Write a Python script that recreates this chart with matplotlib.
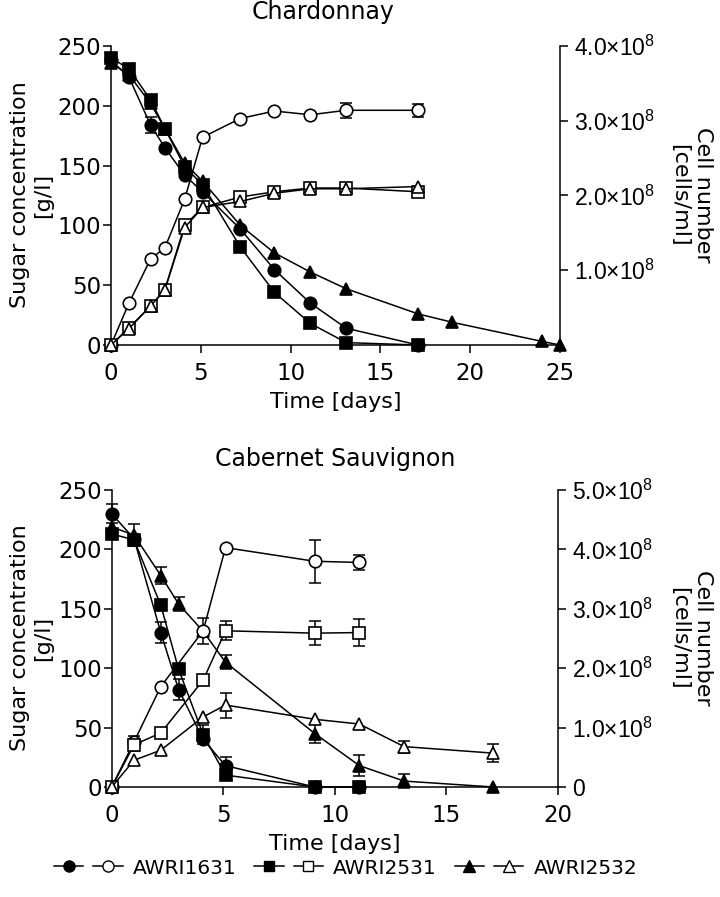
import numpy as np
import matplotlib
matplotlib.use("Agg")
import matplotlib.pyplot as plt
from matplotlib.lines import Line2D
from matplotlib.legend_handler import HandlerTuple

plt.rcParams["font.family"] = "DejaVu Sans"
plt.rcParams["mathtext.default"] = "regular"

# Chardonnay data
ch_days = [0, 1, 2.2, 3, 4.1, 5.1, 7.2, 9.1, 11.1, 13.1, 17.1]
ch_days_2532 = ch_days + [19, 24, 25]
ch_sugar_1631 = [238, 224, 184, 165, 142, 128, 97, 63, 35, 14, 0]
ch_sugar_2531 = [240, 231, 205, 181, 149, 134, 82, 44, 18, 2, 0]
ch_sugar_2532 = [236, 226, 202, 181, 152, 137, 100, 77, 61, 47, 26, 19, 3, 0]
ch_sugar_err_1631 = [0, 0, 7, 0, 0, 0, 0, 0, 0, 0, 0]
ch_cells_1631 = [0, 0.56, 1.15, 1.30, 1.95, 2.78, 3.03, 3.13, 3.08, 3.14, 3.14]
ch_cells_2531 = [0, 0.23, 0.52, 0.74, 1.60, 1.84, 1.98, 2.05, 2.10, 2.10, 2.05]
ch_cells_2532 = [0, 0.22, 0.52, 0.74, 1.57, 1.84, 1.92, 2.03, 2.09, 2.09, 2.12]
ch_cells_err_1631 = [0, 0, 0, 0, 0, 0, 0, 0, 0, 0.1, 0.09]

# Cabernet Sauvignon data
cs_days = [0, 1, 2.2, 3, 4.1, 5.1, 9.1, 11.1]
cs_days_2532 = cs_days + [13.1, 17.1]
cs_sugar_1631 = [230, 209, 130, 82, 40, 18, 0, 0]
cs_sugar_2531 = [213, 208, 153, 99, 44, 10, 0, 0]
cs_sugar_2532 = [219, 212, 178, 154, 131, 105, 45, 18, 5, 0]
cs_sugar_err_1631 = [8, 0, 9, 9, 0, 7, 0, 0]
cs_sugar_err_2531 = [0, 0, 0, 0, 8, 0, 0, 0]
cs_sugar_err_2532 = [0, 9, 7, 6, 0, 6, 8, 9, 6, 0]
cs_cell_days = [0, 1, 2.2, 4.1, 5.1, 9.1, 11.1]
cs_cell_days_2532 = cs_cell_days + [13.1, 17.1]
cs_cells_1631 = [0, 0.76, 1.69, 2.63, 4.03, 3.80, 3.78]
cs_cells_2531 = [0, 0.71, 0.91, 1.80, 2.63, 2.59, 2.60]
cs_cells_2532 = [0, 0.45, 0.62, 1.18, 1.38, 1.14, 1.06, 0.68, 0.57]
cs_cells_err_1631 = [0, 0.1, 0, 0.22, 0, 0.36, 0.12]
cs_cells_err_2531 = [0, 0.1, 0, 0, 0.16, 0.2, 0.22]
cs_cells_err_2532 = [0, 0, 0, 0, 0.21, 0, 0, 0.1, 0.15]

strains = ["AWRI1631", "AWRI2531", "AWRI2532"]
markers = ["o", "s", "^"]
msizes = [9, 8.5, 9]

TICK_FS = 16.5
LABEL_FS = 16


def series(ax, x, y, marker, ms, filled, err=None, scale=1.0):
    x = np.asarray(x, float)
    y = np.asarray(y, float) * scale
    if err is not None:
        e = np.asarray(err, float) * scale
        m = e > 0
        if m.any():
            ax.errorbar(x[m], y[m], yerr=e[m], fmt="none", ecolor="black",
                        elinewidth=1.1, capsize=4.5, capthick=1.1, zorder=2, clip_on=False)
    ax.plot(x, y, color="black", lw=1.1, marker=marker, ms=ms,
            mfc="black" if filled else "white", mec="black", mew=1.2,
            zorder=3, clip_on=False)


def cell_fmt(v, pos):
    if v == 0:
        return "0"
    return f"{v/1e8:.1f}×10$^8$"


def style_axes(ax, ax2, xmax, xticks, cell_max, cell_ticks):
    ax.set_xlim(0, xmax)
    ax.set_ylim(0, 250)
    ax.set_xticks(xticks)
    ax.set_yticks([0, 50, 100, 150, 200, 250])
    ax2.set_ylim(0, cell_max)
    ax2.set_yticks(cell_ticks)
    ax2.yaxis.set_major_formatter(plt.FuncFormatter(cell_fmt))
    for a in (ax, ax2):
        a.spines["top"].set_visible(False)
        for s in a.spines.values():
            s.set_linewidth(1.1)
    ax.spines["right"].set_visible(False)
    ax2.spines["left"].set_visible(False)
    ax2.spines["bottom"].set_visible(False)
    ax.tick_params(axis="both", labelsize=TICK_FS, length=6, width=1.1)
    ax.tick_params(axis="y", pad=1)
    ax.tick_params(axis="x", pad=6)
    ax2.tick_params(axis="y", labelsize=TICK_FS, length=6, width=1.1, pad=4)
    for lab in ax2.get_yticklabels():
        lab.set_fontfamily("Liberation Sans")
    ax.set_xlabel("Time [days]", fontsize=LABEL_FS, labelpad=5)


fig = plt.figure(figsize=(7.2, 8.97), dpi=100)

# ---- Chardonnay ----
ax = fig.add_axes([111 / 720, 1 - 345 / 897, 449 / 720, 299 / 897])
ax2 = ax.twinx()
series(ax, ch_days, ch_sugar_1631, "o", msizes[0], True, ch_sugar_err_1631)
series(ax, ch_days, ch_sugar_2531, "s", msizes[1], True)
series(ax, ch_days_2532, ch_sugar_2532, "^", msizes[2], True)
series(ax2, ch_days, ch_cells_1631, "o", msizes[0], False, ch_cells_err_1631, 1e8)
series(ax2, ch_days, ch_cells_2531, "s", msizes[1], False, None, 1e8)
series(ax2, ch_days, ch_cells_2532, "^", msizes[2], False, None, 1e8)
style_axes(ax, ax2, 25, [0, 5, 10, 15, 20, 25], 4e8, [1e8, 2e8, 3e8, 4e8])
fig.text(323 / 720, 1 - 19 / 897, "Chardonnay", ha="center", va="baseline", fontsize=17)
fig.text(0.044, 1 - 195 / 897, "Sugar concentration\n[g/l]", rotation=90,
         ha="center", va="center", multialignment="center", fontsize=LABEL_FS)
fig.text(0.96, 1 - 195 / 897, "Cell number\n[cells/ml]", rotation=270,
         ha="center", va="center", multialignment="center", fontsize=LABEL_FS)

# ---- Cabernet Sauvignon ----
bx = fig.add_axes([111.7 / 720, 1 - 787 / 897, 446.3 / 720, 297 / 897])
bx2 = bx.twinx()
series(bx, cs_days, cs_sugar_1631, "o", msizes[0], True, cs_sugar_err_1631)
series(bx, cs_days, cs_sugar_2531, "s", msizes[1], True, cs_sugar_err_2531)
series(bx, cs_days_2532, cs_sugar_2532, "^", msizes[2], True, cs_sugar_err_2532)
series(bx2, cs_cell_days, cs_cells_1631, "o", msizes[0], False, cs_cells_err_1631, 1e8)
series(bx2, cs_cell_days, cs_cells_2531, "s", msizes[1], False, cs_cells_err_2531, 1e8)
series(bx2, cs_cell_days_2532, cs_cells_2532, "^", msizes[2], False, cs_cells_err_2532, 1e8)
style_axes(bx, bx2, 20, [0, 5, 10, 15, 20], 5e8, [0, 1e8, 2e8, 3e8, 4e8, 5e8])
fig.text(335 / 720, 1 - 466 / 897, "Cabernet Sauvignon", ha="center", va="baseline", fontsize=17)
fig.text(0.044, 1 - 638 / 897, "Sugar concentration\n[g/l]", rotation=90,
         ha="center", va="center", multialignment="center", fontsize=LABEL_FS)
fig.text(0.96, 1 - 638 / 897, "Cell number\n[cells/ml]", rotation=270,
         ha="center", va="center", multialignment="center", fontsize=LABEL_FS)

# ---- legend ----
handles = []
for mk, ms in zip(markers, msizes):
    h1 = Line2D([], [], color="black", lw=1.1, marker=mk, ms=ms - 1, mfc="black", mec="black")
    h2 = Line2D([], [], color="black", lw=1.1, marker=mk, ms=ms - 1, mfc="white", mec="black")
    handles.append((h1, h2))
fig.legend(handles, strains, handler_map={tuple: HandlerTuple(ndivide=None, pad=0.5)},
           loc="center", bbox_to_anchor=(0.48, 1 - 868 / 897), ncol=3, frameon=False,
           fontsize=14.5, handlelength=3.4, handletextpad=0.5, columnspacing=0.9)

fig.savefig("out.png", dpi=100)
